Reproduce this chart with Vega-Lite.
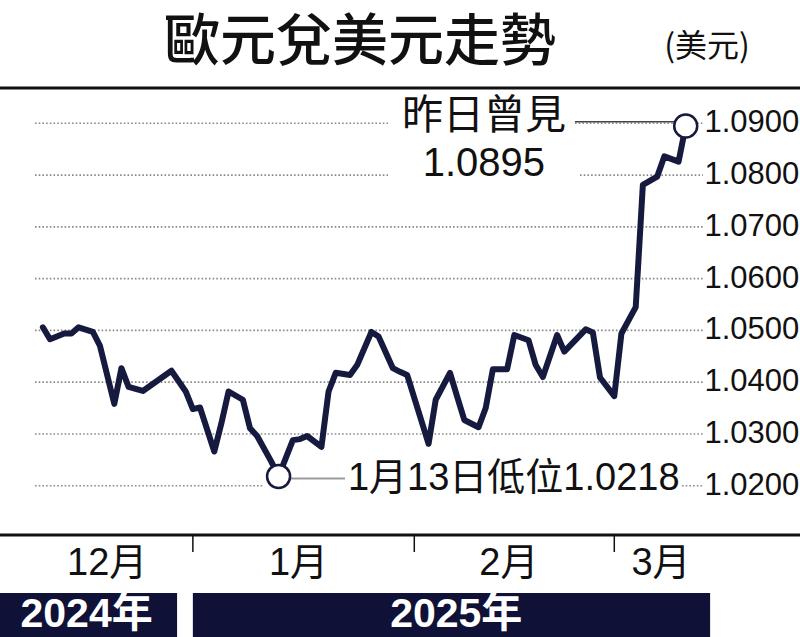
{
  "$schema": "https://vega.github.io/schema/vega-lite/v6.json",
  "width": 800,
  "height": 637,
  "padding": 0,
  "autosize": {"type": "none"},
  "background": "white",
  "config": {"view": {"stroke": null}},
  "data": {"values": [{}]},
  "layer": [
    {
      "data": {"values": [
        {"level": 1.02, "start": "2024-12-09T21:36:00Z", "end": "2025-01-10T23:00:00Z"},
        {"level": 1.02, "start": "2025-03-10T11:30:00Z", "end": "2025-03-13T10:00:00Z"},
        {"level": 1.03, "start": "2024-12-09T21:36:00Z", "end": "2025-03-13T10:00:00Z"},
        {"level": 1.04, "start": "2024-12-09T21:36:00Z", "end": "2025-03-13T10:00:00Z"},
        {"level": 1.05, "start": "2024-12-09T21:36:00Z", "end": "2025-03-13T10:00:00Z"},
        {"level": 1.06, "start": "2024-12-09T21:36:00Z", "end": "2025-03-13T10:00:00Z"},
        {"level": 1.07, "start": "2024-12-09T21:36:00Z", "end": "2025-03-13T10:00:00Z"},
        {"level": 1.08, "start": "2024-12-09T21:36:00Z", "end": "2025-01-28T07:40:00Z"},
        {"level": 1.08, "start": "2025-02-24T04:48:00Z", "end": "2025-03-13T10:00:00Z"},
        {"level": 1.09, "start": "2024-12-09T21:36:00Z", "end": "2025-01-28T07:40:00Z"},
        {"level": 1.09, "start": "2025-02-23T12:00:00Z", "end": "2025-03-13T10:00:00Z"}
      ]},
      "mark": {"type": "rule", "stroke": "#8a8a8a", "strokeWidth": 1.6, "strokeDash": [1.6, 2.1]},
      "encoding": {
        "x": {"field": "start", "type": "temporal", "axis": null, "scale": {"domain": [{"year": 2024, "month": 12, "date": 5, "utc": true}, {"year": 2025, "month": 3, "date": 27, "utc": true}]}},
        "x2": {"field": "end"},
        "y": {"field": "level", "type": "quantitative", "axis": null, "scale": {"domain": [0.990775, 1.113819], "zero": false, "nice": false}}
      }
    },
    {
      "mark": {"type": "rule", "stroke": "#111111", "strokeWidth": 3},
      "encoding": {
        "x": {"datum": {"year": 2024, "month": 12, "date": 5, "utc": true}, "type": "temporal", "axis": null, "scale": {"domain": [{"year": 2024, "month": 12, "date": 5, "utc": true}, {"year": 2025, "month": 3, "date": 27, "utc": true}]}},
        "x2": {"datum": {"year": 2025, "month": 3, "date": 27, "utc": true}},
        "y": {"datum": 1.09682, "type": "quantitative", "axis": null, "scale": {"domain": [0.990775, 1.113819], "zero": false, "nice": false}}
      }
    },
    {
      "mark": {"type": "rule", "stroke": "#111111", "strokeWidth": 3},
      "encoding": {
        "x": {"datum": {"year": 2024, "month": 12, "date": 5, "utc": true}, "type": "temporal", "axis": null, "scale": {"domain": [{"year": 2024, "month": 12, "date": 5, "utc": true}, {"year": 2025, "month": 3, "date": 27, "utc": true}]}},
        "x2": {"datum": {"year": 2025, "month": 3, "date": 27, "utc": true}},
        "y": {"datum": 1.01048, "type": "quantitative", "axis": null, "scale": {"domain": [0.990775, 1.113819], "zero": false, "nice": false}}
      }
    },
    {
      "data": {"values": [{"month": "2025-01-01"}, {"month": "2025-02-01"}, {"month": "2025-03-01"}]},
      "mark": {"type": "rule", "stroke": "#111111", "strokeWidth": 1.5},
      "encoding": {
        "x": {"field": "month", "type": "temporal", "axis": null, "scale": {"domain": [{"year": 2024, "month": 12, "date": 5, "utc": true}, {"year": 2025, "month": 3, "date": 27, "utc": true}]}},
        "y": {"datum": 1.01048, "type": "quantitative", "axis": null, "scale": {"domain": [0.990775, 1.113819], "zero": false, "nice": false}},
        "y2": {"datum": 1.00719}
      }
    },
    {
      "mark": {"type": "rect", "color": "#0f1236"},
      "encoding": {
        "x": {"datum": {"year": 2024, "month": 12, "date": 5, "utc": true}, "type": "temporal", "axis": null, "scale": {"domain": [{"year": 2024, "month": 12, "date": 5, "utc": true}, {"year": 2025, "month": 3, "date": 27, "utc": true}]}},
        "x2": {"datum": {"year": 2024, "month": 12, "date": 29, "hours": 19, "utc": true}},
        "y": {"datum": 0.999274, "type": "quantitative", "axis": null, "scale": {"domain": [0.990775, 1.113819], "zero": false, "nice": false}},
        "y2": {"datum": 0.990775}
      }
    },
    {
      "mark": {"type": "rect", "color": "#0f1236"},
      "encoding": {
        "x": {"datum": {"year": 2025, "month": 1, "date": 1, "utc": true}, "type": "temporal", "axis": null, "scale": {"domain": [{"year": 2024, "month": 12, "date": 5, "utc": true}, {"year": 2025, "month": 3, "date": 27, "utc": true}]}},
        "x2": {"datum": {"year": 2025, "month": 3, "date": 14, "hours": 10, "utc": true}},
        "y": {"datum": 0.999274, "type": "quantitative", "axis": null, "scale": {"domain": [0.990775, 1.113819], "zero": false, "nice": false}},
        "y2": {"datum": 0.990775}
      }
    },
    {
      "mark": {"type": "text", "text": "2024年", "font": "Liberation Sans, Noto Sans CJK TC", "fontSize": 41, "fontWeight": "bold", "color": "white", "align": "center", "baseline": "middle"},
      "encoding": {
        "x": {"datum": {"year": 2024, "month": 12, "date": 17, "hours": 3, "utc": true}, "type": "temporal", "axis": null, "scale": {"domain": [{"year": 2024, "month": 12, "date": 5, "utc": true}, {"year": 2025, "month": 3, "date": 27, "utc": true}]}},
        "y": {"datum": 0.995024, "type": "quantitative", "axis": null, "scale": {"domain": [0.990775, 1.113819], "zero": false, "nice": false}}
      }
    },
    {
      "mark": {"type": "text", "text": "2025年", "font": "Liberation Sans, Noto Sans CJK TC", "fontSize": 41, "fontWeight": "bold", "color": "white", "align": "center", "baseline": "middle"},
      "encoding": {
        "x": {"datum": {"year": 2025, "month": 2, "date": 6, "hours": 21, "utc": true}, "type": "temporal", "axis": null, "scale": {"domain": [{"year": 2024, "month": 12, "date": 5, "utc": true}, {"year": 2025, "month": 3, "date": 27, "utc": true}]}},
        "y": {"datum": 0.995024, "type": "quantitative", "axis": null, "scale": {"domain": [0.990775, 1.113819], "zero": false, "nice": false}}
      }
    },
    {
      "data": {"values": [
        {"month": "2024-12-20T00:00:00Z", "label": "12月"},
        {"month": "2025-01-15T19:00:00Z", "label": "1月"},
        {"month": "2025-02-14T06:00:00Z", "label": "2月"},
        {"month": "2025-03-07T13:00:00Z", "label": "3月"}
      ]},
      "mark": {"type": "text", "font": "Liberation Sans, Noto Sans CJK TC", "fontSize": 38, "color": "#111111", "align": "center", "baseline": "middle"},
      "encoding": {
        "x": {"field": "month", "type": "temporal", "axis": null, "scale": {"domain": [{"year": 2024, "month": 12, "date": 5, "utc": true}, {"year": 2025, "month": 3, "date": 27, "utc": true}]}},
        "y": {"datum": 1.00495, "type": "quantitative", "axis": null, "scale": {"domain": [0.990775, 1.113819], "zero": false, "nice": false}},
        "text": {"field": "label"}
      }
    },
    {
      "data": {"values": [
        {"level": 1.02}, {"level": 1.03}, {"level": 1.04}, {"level": 1.05},
        {"level": 1.06}, {"level": 1.07}, {"level": 1.08}, {"level": 1.09}
      ]},
      "mark": {"type": "text", "font": "Liberation Sans", "fontSize": 31, "color": "#111111", "align": "left", "baseline": "middle"},
      "encoding": {
        "x": {"datum": {"year": 2025, "month": 3, "date": 13, "hours": 15, "utc": true}, "type": "temporal", "axis": null, "scale": {"domain": [{"year": 2024, "month": 12, "date": 5, "utc": true}, {"year": 2025, "month": 3, "date": 27, "utc": true}]}},
        "y": {"field": "level", "type": "quantitative", "axis": null, "scale": {"domain": [0.990775, 1.113819], "zero": false, "nice": false}},
        "text": {"field": "level", "type": "quantitative", "format": ".4f"}
      }
    },
    {
      "mark": {"type": "rule", "stroke": "#444444", "strokeWidth": 1.5},
      "encoding": {
        "x": {"datum": {"year": 2025, "month": 2, "date": 23, "hours": 12, "utc": true}, "type": "temporal", "axis": null, "scale": {"domain": [{"year": 2024, "month": 12, "date": 5, "utc": true}, {"year": 2025, "month": 3, "date": 27, "utc": true}]}},
        "x2": {"datum": {"year": 2025, "month": 3, "date": 11, "utc": true}},
        "y": {"datum": 1.0903, "type": "quantitative", "axis": null, "scale": {"domain": [0.990775, 1.113819], "zero": false, "nice": false}}
      }
    },
    {
      "mark": {"type": "rule", "stroke": "#999999", "strokeWidth": 2},
      "encoding": {
        "x": {"datum": {"year": 2025, "month": 1, "date": 13, "utc": true}, "type": "temporal", "axis": null, "scale": {"domain": [{"year": 2024, "month": 12, "date": 5, "utc": true}, {"year": 2025, "month": 3, "date": 27, "utc": true}]}},
        "x2": {"datum": {"year": 2025, "month": 1, "date": 22, "hours": 7, "utc": true}},
        "y": {"datum": 1.0214, "type": "quantitative", "axis": null, "scale": {"domain": [0.990775, 1.113819], "zero": false, "nice": false}}
      }
    },
    {
      "data": {"values": [
        {"date": "2024-12-11", "rate": 1.0506},
        {"date": "2024-12-12", "rate": 1.0483},
        {"date": "2024-12-14", "rate": 1.0494},
        {"date": "2024-12-15", "rate": 1.0494},
        {"date": "2024-12-16", "rate": 1.0506},
        {"date": "2024-12-18", "rate": 1.0497},
        {"date": "2024-12-19", "rate": 1.0470},
        {"date": "2024-12-21", "rate": 1.0358},
        {"date": "2024-12-22", "rate": 1.0427},
        {"date": "2024-12-23", "rate": 1.0391},
        {"date": "2024-12-25", "rate": 1.0383},
        {"date": "2024-12-29", "rate": 1.0422},
        {"date": "2024-12-31", "rate": 1.0382},
        {"date": "2025-01-01", "rate": 1.0348},
        {"date": "2025-01-02", "rate": 1.0351},
        {"date": "2025-01-04", "rate": 1.0266},
        {"date": "2025-01-05", "rate": 1.0321},
        {"date": "2025-01-06", "rate": 1.0382},
        {"date": "2025-01-08", "rate": 1.0366},
        {"date": "2025-01-09", "rate": 1.0311},
        {"date": "2025-01-10", "rate": 1.0296},
        {"date": "2025-01-12", "rate": 1.0246},
        {"date": "2025-01-13", "rate": 1.0218},
        {"date": "2025-01-15", "rate": 1.0288},
        {"date": "2025-01-16", "rate": 1.0290},
        {"date": "2025-01-17", "rate": 1.0296},
        {"date": "2025-01-19", "rate": 1.0275},
        {"date": "2025-01-20", "rate": 1.0382},
        {"date": "2025-01-21", "rate": 1.0418},
        {"date": "2025-01-23", "rate": 1.0414},
        {"date": "2025-01-24", "rate": 1.0433},
        {"date": "2025-01-26", "rate": 1.0497},
        {"date": "2025-01-27", "rate": 1.0488},
        {"date": "2025-01-29", "rate": 1.0427},
        {"date": "2025-01-30", "rate": 1.0420},
        {"date": "2025-01-31", "rate": 1.0414},
        {"date": "2025-02-03", "rate": 1.0281},
        {"date": "2025-02-04", "rate": 1.0366},
        {"date": "2025-02-06", "rate": 1.0418},
        {"date": "2025-02-07", "rate": 1.0372},
        {"date": "2025-02-08", "rate": 1.0327},
        {"date": "2025-02-10", "rate": 1.0313},
        {"date": "2025-02-11", "rate": 1.0350},
        {"date": "2025-02-12", "rate": 1.0425},
        {"date": "2025-02-14", "rate": 1.0425},
        {"date": "2025-02-15", "rate": 1.0491},
        {"date": "2025-02-17", "rate": 1.0481},
        {"date": "2025-02-18", "rate": 1.0433},
        {"date": "2025-02-19", "rate": 1.0410},
        {"date": "2025-02-21", "rate": 1.0491},
        {"date": "2025-02-22", "rate": 1.0459},
        {"date": "2025-02-25", "rate": 1.0502},
        {"date": "2025-02-26", "rate": 1.0496},
        {"date": "2025-02-27", "rate": 1.0409},
        {"date": "2025-03-01", "rate": 1.0373},
        {"date": "2025-03-02", "rate": 1.0494},
        {"date": "2025-03-04", "rate": 1.0545},
        {"date": "2025-03-05", "rate": 1.0781},
        {"date": "2025-03-07", "rate": 1.0797},
        {"date": "2025-03-08", "rate": 1.0836},
        {"date": "2025-03-10", "rate": 1.0826},
        {"date": "2025-03-11", "rate": 1.0895}
      ]},
      "mark": {"type": "line", "color": "#161a3e", "strokeWidth": 6, "strokeJoin": "round", "strokeCap": "round"},
      "encoding": {
        "x": {"field": "date", "type": "temporal", "axis": null, "scale": {"domain": [{"year": 2024, "month": 12, "date": 5, "utc": true}, {"year": 2025, "month": 3, "date": 27, "utc": true}]}},
        "y": {"field": "rate", "type": "quantitative", "axis": null, "scale": {"domain": [0.990775, 1.113819], "zero": false, "nice": false}}
      }
    },
    {
      "data": {"values": [
        {"date": "2025-01-13", "rate": 1.0218},
        {"date": "2025-03-11", "rate": 1.0895}
      ]},
      "mark": {"type": "point", "shape": "circle", "size": 529, "filled": true, "fill": "white", "stroke": "#161a3e", "strokeWidth": 2.5, "opacity": 1},
      "encoding": {
        "x": {"field": "date", "type": "temporal", "axis": null, "scale": {"domain": [{"year": 2024, "month": 12, "date": 5, "utc": true}, {"year": 2025, "month": 3, "date": 27, "utc": true}]}},
        "y": {"field": "rate", "type": "quantitative", "axis": null, "scale": {"domain": [0.990775, 1.113819], "zero": false, "nice": false}}
      }
    },
    {
      "mark": {"type": "text", "text": "昨日曾見", "font": "Noto Sans CJK TC", "fontSize": 41, "color": "#111111", "align": "center", "baseline": "middle"},
      "encoding": {
        "x": {"datum": {"year": 2025, "month": 2, "date": 10, "hours": 18, "utc": true}, "type": "temporal", "axis": null, "scale": {"domain": [{"year": 2024, "month": 12, "date": 5, "utc": true}, {"year": 2025, "month": 3, "date": 27, "utc": true}]}},
        "y": {"datum": 1.09122, "type": "quantitative", "axis": null, "scale": {"domain": [0.990775, 1.113819], "zero": false, "nice": false}}
      }
    },
    {
      "mark": {"type": "text", "text": "1.0895", "font": "Liberation Sans", "fontSize": 40, "color": "#111111", "align": "center", "baseline": "middle"},
      "encoding": {
        "x": {"datum": {"year": 2025, "month": 2, "date": 10, "hours": 18, "utc": true}, "type": "temporal", "axis": null, "scale": {"domain": [{"year": 2024, "month": 12, "date": 5, "utc": true}, {"year": 2025, "month": 3, "date": 27, "utc": true}]}},
        "y": {"datum": 1.08214, "type": "quantitative", "axis": null, "scale": {"domain": [0.990775, 1.113819], "zero": false, "nice": false}}
      }
    },
    {
      "mark": {"type": "text", "text": "1月13日低位1.0218", "font": "Liberation Sans, Noto Sans CJK TC", "fontSize": 38, "color": "#111111", "align": "left", "baseline": "middle"},
      "encoding": {
        "x": {"datum": {"year": 2025, "month": 1, "date": 22, "hours": 17, "utc": true}, "type": "temporal", "axis": null, "scale": {"domain": [{"year": 2024, "month": 12, "date": 5, "utc": true}, {"year": 2025, "month": 3, "date": 27, "utc": true}]}},
        "y": {"datum": 1.0212, "type": "quantitative", "axis": null, "scale": {"domain": [0.990775, 1.113819], "zero": false, "nice": false}}
      }
    },
    {
      "mark": {"type": "text", "text": "歐元兌美元走勢", "font": "Noto Sans CJK TC", "fontSize": 56, "fontWeight": 500, "color": "#111111", "align": "center", "baseline": "middle"},
      "encoding": {
        "x": {"datum": {"year": 2025, "month": 1, "date": 24, "hours": 9, "minutes": 36, "utc": true}, "type": "temporal", "axis": null, "scale": {"domain": [{"year": 2024, "month": 12, "date": 5, "utc": true}, {"year": 2025, "month": 3, "date": 27, "utc": true}]}},
        "y": {"datum": 1.10551, "type": "quantitative", "axis": null, "scale": {"domain": [0.990775, 1.113819], "zero": false, "nice": false}}
      }
    },
    {
      "mark": {"type": "text", "text": "(美元)", "font": "Noto Sans CJK TC", "fontSize": 32, "color": "#111111", "align": "center", "baseline": "middle"},
      "encoding": {
        "x": {"datum": {"year": 2025, "month": 3, "date": 13, "hours": 23, "minutes": 30, "utc": true}, "type": "temporal", "axis": null, "scale": {"domain": [{"year": 2024, "month": 12, "date": 5, "utc": true}, {"year": 2025, "month": 3, "date": 27, "utc": true}]}},
        "y": {"datum": 1.10475, "type": "quantitative", "axis": null, "scale": {"domain": [0.990775, 1.113819], "zero": false, "nice": false}}
      }
    }
  ]
}
